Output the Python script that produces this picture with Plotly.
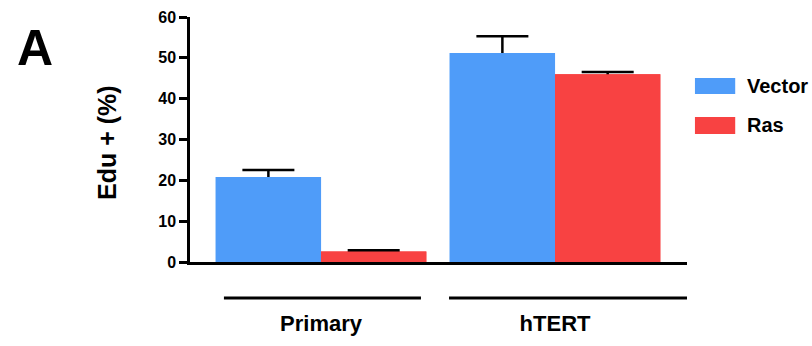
import plotly.graph_objects as go

categories = ["Primary", "hTERT"]
series_names = ["Vector", "Ras"]
vector_vals = [20.8, 51.2]
vector_err = [1.7, 4.1]
ras_vals = [2.6, 46.0]
ras_err = [0.3, 0.5]
y_ticks = [0, 10, 20, 30, 40, 50, 60]
y_title = "Edu + (%)"
panel_label = "A"

colors = ["#4F9CF9", "#F84242"]
FONT = "Liberation Sans, Arial, sans-serif"

fig = go.Figure()
for name, vals, errs, col in [
    (series_names[0], vector_vals, vector_err, colors[0]),
    (series_names[1], ras_vals, ras_err, colors[1]),
]:
    # bar carrying the (symmetric) error bar
    fig.add_trace(go.Bar(
        x=categories, y=vals, name=name, offsetgroup=name,
        marker=dict(color=col, line=dict(width=0)),
        error_y=dict(type="data", array=errs, color="black", thickness=2.5, width=26),
        showlegend=False, hoverinfo="skip",
    ))
    # same bar drawn on top, hiding the lower half of the error bar
    fig.add_trace(go.Bar(
        x=categories, y=vals, name=name, offsetgroup=name,
        marker=dict(color=col, line=dict(width=0)),
        showlegend=False, hoverinfo="skip",
    ))

fig.update_layout(
    width=812, height=346,
    margin=dict(l=190, r=125, t=17, b=84),
    paper_bgcolor="white", plot_bgcolor="white",
    barmode="group", bargap=0.1, bargroupgap=0,
    font=dict(family=FONT, color="black"),
)
fig.update_xaxes(
    type="category", categoryorder="array", categoryarray=categories,
    range=[-0.56, 1.564], showline=True, linecolor="black", linewidth=2.5,
    ticks="", showgrid=False, zeroline=False, automargin=False,
    tickfont=dict(size=22, family=FONT, weight="bold"), ticklabelstandoff=40,
)
fig.update_yaxes(
    range=[0, 60], tickvals=y_ticks, showline=True, linecolor="black", linewidth=2.5,
    ticks="outside", ticklen=8, tickwidth=2.5, tickcolor="black",
    showgrid=False, zeroline=False, automargin=False,
    tickfont=dict(size=16, family=FONT, weight="bold"),
)

# group underlines
fig.add_shape(type="line", xref="x", yref="paper", x0=-0.415, x1=0.427, y0=-0.147, y1=-0.147,
              line=dict(color="black", width=3))
fig.add_shape(type="line", xref="x", yref="paper", x0=0.547, x1=1.564, y0=-0.147, y1=-0.147,
              line=dict(color="black", width=3))

# custom legend
leg_y = [(0.751, 0.686, 0.718), (0.592, 0.522, 0.559)]
for (y1, y0, yc), name, col in zip(leg_y, series_names, colors):
    fig.add_shape(type="rect", xref="paper", yref="paper", x0=1.016, x1=1.097, y0=y0, y1=y1,
                  fillcolor=col, line=dict(width=0))
    fig.add_annotation(xref="paper", yref="paper", x=1.117, y=yc, text=name, showarrow=False,
                       xanchor="left", yanchor="middle",
                       font=dict(size=20, family=FONT, weight="bold", color="black"))

fig.add_annotation(xref="paper", yref="paper", x=-0.167, y=0.486, text=y_title, textangle=-90,
                   showarrow=False, xanchor="center", yanchor="middle",
                   font=dict(size=25, family=FONT, weight="bold", color="black"))
fig.add_annotation(xref="paper", yref="paper", x=-0.312, y=0.873, text=panel_label,
                   showarrow=False, xanchor="center", yanchor="middle",
                   font=dict(size=50, family=FONT, weight="bold", color="black"))

fig.write_html("out.html", config={"displayModeBar": False},
               post_script="document.body.style.margin='0';document.body.style.overflow='hidden';")
